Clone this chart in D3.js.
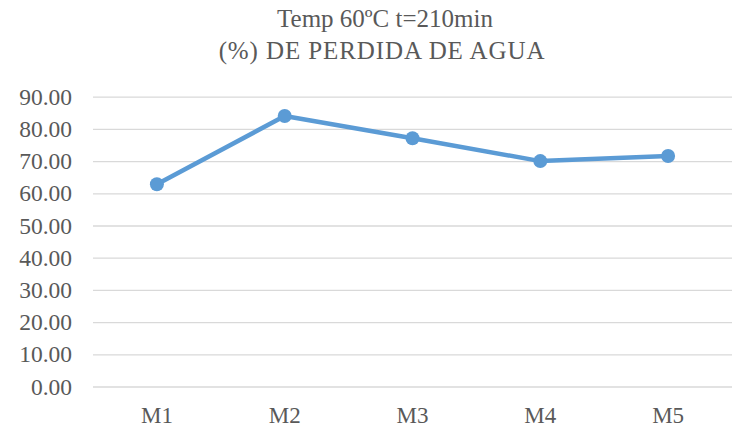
<!DOCTYPE html>
<html>
<head>
<meta charset="utf-8">
<script src="https://cdn.jsdelivr.net/npm/d3@7"></script>
<style>
  html, body { margin: 0; padding: 0; background: #ffffff; }
  svg { display: block; }
</style>
</head>
<body>
<svg id="chart" width="735" height="433"></svg>
<script>
// Water loss percentage per sample at 60 °C, 210 min
const categories = ["M1", "M2", "M3", "M4", "M5"];
const values = [62.8, 84.0, 77.1, 70.0, 71.6];
const yTicks = [0, 10, 20, 30, 40, 50, 60, 70, 80, 90];
const titleLines = ["Temp 60ºC t=210min", "(%) DE PERDIDA DE AGUA"];

const svg = d3.select("#chart");
const font = "'Liberation Serif', 'Times New Roman', serif";
const textColor = "#595959";

const margin = { left: 93, right: 3, top: 96.7, bottom: 46.5 };
const width = 735, height = 433;

const x = d3.scaleBand()
  .domain(categories)
  .range([margin.left, width - margin.right])
  .padding(0);

const y = d3.scaleLinear()
  .domain([0, 90])
  .range([height - margin.bottom, margin.top]);

// Title (two lines)
svg.append("g")
  .selectAll("text")
  .data(titleLines)
  .join("text")
  .attr("x", (d, i) => i === 0 ? 385 : 382)
  .attr("y", (d, i) => 26.7 + i * 32.6)
  .attr("text-anchor", "middle")
  .attr("font-family", font)
  .attr("font-size", 25)
  .attr("letter-spacing", (d, i) => i === 0 ? 0 : 0.9)
  .attr("fill", textColor)
  .text(d => d);

// Horizontal gridlines and y labels
const yAxis = d3.axisLeft(y)
  .tickValues(yTicks)
  .tickSize(-(width - margin.left - margin.right))
  .tickPadding(21)
  .tickFormat(d3.format(".2f"));

const gy = svg.append("g")
  .attr("transform", `translate(${margin.left},0)`)
  .call(yAxis);
gy.select(".domain").remove();
gy.selectAll(".tick line")
  .attr("stroke", "#d9d9d9")
  .attr("stroke-width", 1.3);
gy.selectAll(".tick text")
  .attr("font-family", font)
  .attr("font-size", 23.5)
  .attr("fill", textColor);

// Category labels
const xAxis = d3.axisBottom(x).tickSize(0).tickPadding(20);
const gx = svg.append("g")
  .attr("transform", `translate(0,${height - margin.bottom})`)
  .call(xAxis);
gx.select(".domain").remove();
gx.selectAll(".tick text")
  .attr("font-family", font)
  .attr("font-size", 23)
  .attr("fill", textColor);

// Series line with circular markers
const data = categories.map((c, i) => ({ c, v: values[i] }));
const line = d3.line()
  .x(d => x(d.c) + x.bandwidth() / 2)
  .y(d => y(d.v));

svg.append("path")
  .datum(data)
  .attr("d", line)
  .attr("fill", "none")
  .attr("stroke", "#5b9bd5")
  .attr("stroke-width", 4.5)
  .attr("stroke-linejoin", "round")
  .attr("stroke-linecap", "round");

svg.append("g")
  .selectAll("circle")
  .data(data)
  .join("circle")
  .attr("cx", d => x(d.c) + x.bandwidth() / 2)
  .attr("cy", d => y(d.v))
  .attr("r", 7)
  .attr("fill", "#5b9bd5");
</script>
</body>
</html>
